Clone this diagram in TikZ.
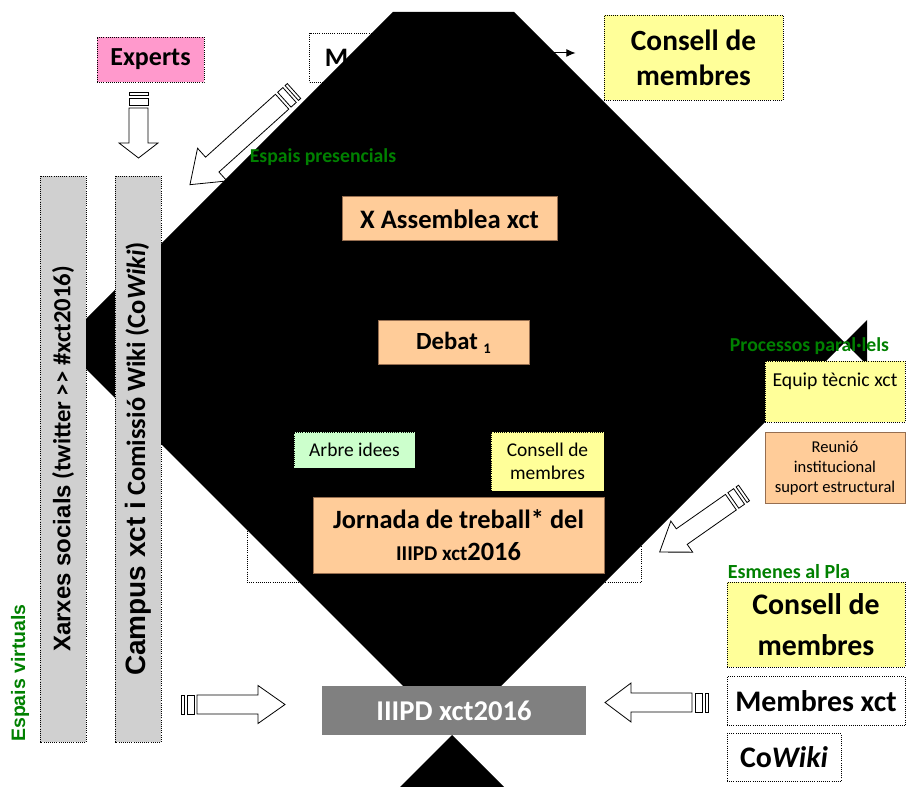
\documentclass[tikz,border=0pt]{standalone}
\usepackage{fontspec}
\setmainfont{Carlito}
\newfontfamily\arialf{Liberation Sans}
\usetikzlibrary{positioning,arrows.meta}

\definecolor{pinkbox}{RGB}{255,153,204}
\definecolor{yellowbox}{RGB}{255,255,153}
\definecolor{peachbox}{RGB}{255,204,153}
\definecolor{greenbox}{RGB}{204,255,204}
\definecolor{greybox}{RGB}{208,208,208}
\definecolor{darkbox}{RGB}{128,128,128}
\definecolor{peachline}{RGB}{150,110,80}
\definecolor{labelgreen}{RGB}{0,128,0}

\tikzset{
  pics/stripearrow/.style n args={4}{code={
    \draw[fill=white] (16,-#2) -- ({#1-#4},-#2) -- ({#1-#4},-#3) -- (#1,0)
      -- ({#1-#4},#3) -- ({#1-#4},#2) -- (16,#2) -- cycle;
    \draw[fill=white] (0,-#2) rectangle (3,#2);
    \draw[fill=white] (6,-#2) rectangle (13,#2);
  }}
}

\begin{document}
\begin{tikzpicture}[x=0.75pt,y=-0.75pt,
    sz/.style 2 args={minimum width=#1*0.75pt,minimum height=#2*0.75pt},
    dotbox/.style={draw,densely dotted,line width=0.6pt,inner sep=0pt,align=center},
    solidbox/.style={draw=peachline,line width=0.75pt,fill=peachbox,inner sep=0pt,align=center},
    tag/.style={text=labelgreen,inner sep=0pt,font=\bfseries\fontsize{14.8}{18}\selectfont},
    big/.style={font=\bfseries\fontsize{22.4}{31}\selectfont},
    blockarrow/.style={line width=0.6pt}
  ]
  \useasboundingbox (0,0) rectangle (906,787);

  % under the black shape
  \node[dotbox,fill=yellowbox,sz={179}{85},font=\bfseries\fontsize{22}{26}\selectfont] (consellA) at (693.5,57.5) {Consell de\\membres};
  \node[dotbox,fill=white,sz={175}{49},font=\bfseries\fontsize{20}{23}\selectfont] (memb) at (397,57.5) {Membres xct};
  \node[dotbox,fill=white,sz={394}{152}] (frame) at (444,506) {};
  \draw[-{Latex[length=7pt,width=6pt]},line width=0.75pt,shorten >=21pt]
    ([yshift=3.4pt]memb.east) -- ([yshift=3.4pt]consellA.west);
  \pic[blockarrow,rotate=222] at (294,91) {stripearrow={140}{10}{22}{30}};

  % black shape
  \fill[black] (393,12) -- (514,12) -- (867,365) -- (867,320) -- (400,787)
    -- (504,787) -- (41,324) -- (41,364) -- cycle;

  % left column
  \node[dotbox,fill=pinkbox,sz={107}{45},font=\bfseries\fontsize{19.5}{23}\selectfont] (experts) at (150.5,59.5) {Experts};
  \pic[blockarrow,rotate=-90] at (138.5,92) {stripearrow={66}{9.5}{19.5}{15}};
  \node[dotbox,fill=greybox,rotate=90,sz={566}{46},font=\bfseries\fontsize{18.5}{20}\selectfont] (xarxes) at (63,459)
    {{\arialf\fontsize{18}{22}\selectfont Xarxes socials} (twitter >{}> \#xct2016)};
  \node[dotbox,fill=greybox,rotate=90,sz={566}{46},font=\bfseries\fontsize{19.8}{21}\selectfont] (campus) at (138,459)
    {{\arialf\fontsize{21}{25}\selectfont Campus xct i} Comissió Wiki (Co\textit{Wiki})};
  \node[text=labelgreen,rotate=90,inner sep=0pt,font=\arialf\bfseries\fontsize{14.6}{17}\selectfont] (virt) at (20,673) {Espais virtuals};

  % inside the black shape
  \node[tag] (pres) at (323,157) {Espais presencials};
  \node[solidbox,sz={215}{44},font=\bfseries\fontsize{20}{24}\selectfont] (assem) at (449.5,219) {X Assemblea xct};
  \node[solidbox,sz={151}{44},font=\bfseries\fontsize{18.5}{22}\selectfont] (debat) at (453.5,343)
    {Debat {\fontsize{11}{11}\selectfont\raisebox{-3pt}{1}}};
  \node[dotbox,fill=greenbox,sz={121}{36},font=\fontsize{14.6}{17}\selectfont] (arbre) at (354.5,450) {Arbre idees};
  \node[dotbox,fill=yellowbox,sz={113}{59},font=\fontsize{14.6}{17.3}\selectfont] (consellB) at (547.5,461.5) {Consell de\\membres};
  \node[solidbox,sz={291}{76},font=\bfseries\fontsize{19.8}{24}\selectfont] (jornada) at (458.5,535)
    {Jornada de treball* del\\{\fontsize{15.8}{17}\selectfont IIIPD xct}2016};

  % right column
  \node[tag] (proc) at (809.5,346) {Processos paral·lels};
  \node[dotbox,fill=yellowbox,sz={140}{61},font=\fontsize{14.8}{18}\selectfont] (equip) at (835,391.5) {Equip tècnic xct\\~};
  \node[solidbox,sz={140}{71},font=\fontsize{12.4}{15}\selectfont,below=7.5pt of equip] (reunio)
    {Reunió\\institucional\\suport estructural};
  \pic[blockarrow,rotate=215] at (744,493) {stripearrow={103}{9.5}{19}{27}};

  \node[tag,font=\bfseries\fontsize{15}{18}\selectfont] (esmenes) at (789,572) {Esmenes al Pla};
  \node[dotbox,fill=yellowbox,sz={178}{85},big] (consellC) at (816,624.5) {Consell de\\membres};
  \node[dotbox,fill=white,sz={178}{49},big,below=6.75pt of consellC] (membres) {Membres xct};
  \node[dotbox,fill=white,sz={114}{48},big,below=5.25pt of membres.south west,anchor=north west] (cowiki) {Co\textit{Wiki}};

  % bottom
  \node[fill=darkbox,text=white,sz={264}{49},inner sep=0pt,font=\bfseries\fontsize{21.5}{25}\selectfont] (iiipd) at (454,710.5) {IIIPD xct2016};
  \pic[blockarrow] at (181,704.5) {stripearrow={104}{9.5}{19}{27}};
  \pic[blockarrow,rotate=180] at (708,702.5) {stripearrow={103}{9.5}{19.5}{26}};
\end{tikzpicture}
\end{document}
